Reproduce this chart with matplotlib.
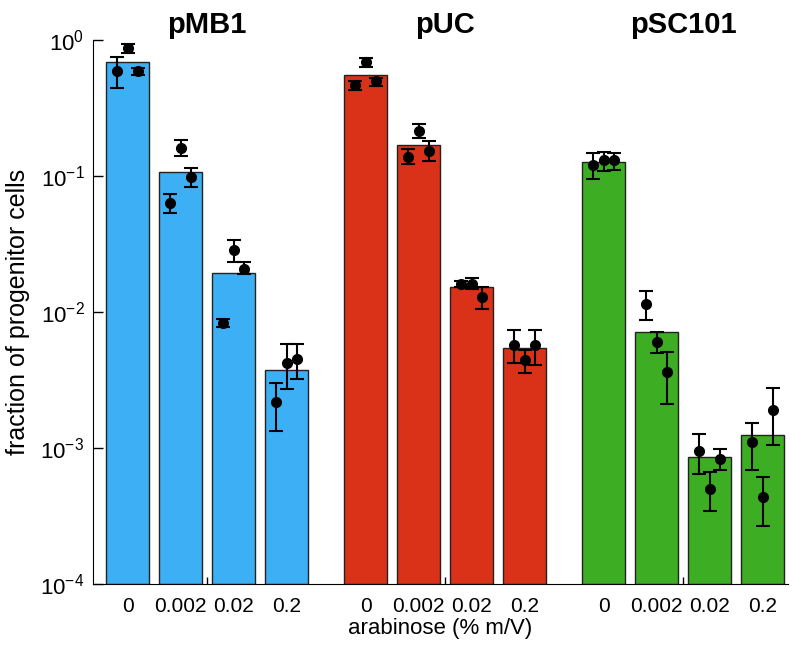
import matplotlib
matplotlib.use("Agg")
import matplotlib.pyplot as plt
from matplotlib.transforms import offset_copy
import numpy as np

plt.rcParams["font.family"] = ["Liberation Sans", "DejaVu Sans"]
plt.rcParams["mathtext.default"] = "regular"

groups = ["pMB1", "pUC", "pSC101"]
arabinose = ["0", "0.002", "0.02", "0.2"]
colors = ["#3db0f5", "#d93218", "#3dae23"]

# bar heights (mean fraction) per plasmid
bars_pmb1 = [0.686, 0.1076, 0.0191, 0.00366]
bars_puc = [0.550, 0.169, 0.0151, 0.00531]
bars_psc101 = [0.1267, 0.00701, 0.000763, 0.00115]

# replicate points: value, lower end of error bar, upper end of error bar
pts_pmb1 = [[0.594, 0.869, 0.589], [0.0637, 0.1615, 0.0984],
            [0.00834, 0.0284, 0.0208], [0.00218, 0.00424, 0.00454]]
lo_pmb1 = [[0.441, 0.798, 0.553], [0.0532, 0.140, 0.083],
           [0.0077, 0.0232, 0.0189], [0.00134, 0.00272, 0.00323]]
hi_pmb1 = [[0.754, 0.934, 0.626], [0.0738, 0.184, 0.115],
           [0.00893, 0.0337, 0.0232], [0.00302, 0.00578, 0.00578]]

pts_puc = [[0.467, 0.689, 0.497], [0.1387, 0.214, 0.1534],
           [0.0160, 0.0161, 0.0128], [0.00575, 0.00441, 0.00575]]
lo_puc = [[0.429, 0.637, 0.461], [0.1225, 0.189, 0.129],
          [0.0152, 0.0147, 0.0106], [0.0042, 0.00356, 0.00408]]
hi_puc = [[0.502, 0.737, 0.528], [0.157, 0.240, 0.180],
          [0.0168, 0.0177, 0.0152], [0.00733, 0.00526, 0.00733]]

pts_psc101 = [[0.1205, 0.130, 0.130], [0.01145, 0.00601, 0.0036],
              [0.00095, 0.000502, 0.00083], [0.0011, 0.000438, 0.00191]]
lo_psc101 = [[0.095, 0.109, 0.1107], [0.00879, 0.00497, 0.00212],
             [0.000644, 0.000346, 0.000692], [0.00069, 0.000266, 0.00105]]
hi_psc101 = [[0.147, 0.151, 0.147], [0.0142, 0.00713, 0.00508],
             [0.00126, 0.000662, 0.000977], [0.00152, 0.000612, 0.00277]]

bars = [bars_pmb1, bars_puc, bars_psc101]
pts = [pts_pmb1, pts_puc, pts_psc101]
los = [lo_pmb1, lo_puc, lo_psc101]
his = [hi_pmb1, hi_puc, hi_psc101]

bar_step = 0.2227
bar_width = 0.18
pt_step = 0.044

fig = plt.figure(figsize=(8, 6.54), dpi=100)
ax = fig.add_axes([0.116, 0.107, 0.869, 0.832])

title_trans = offset_copy(ax.get_xaxis_transform(), fig=fig, y=7, units="dots")

label_x = []
for g, name in enumerate(groups):
    center = g + 1
    offsets = (np.arange(4) - 1.5) * bar_step
    xs = center + offsets
    ax.bar(xs, bars[g], width=bar_width, bottom=1e-4, color=colors[g],
           edgecolor="#222222", linewidth=1.0, zorder=2)
    label_x.extend(xs)
    for i, x in enumerate(xs):
        px = x + (np.arange(3) - 1) * pt_step
        v = np.array(pts[g][i])
        lo = np.array(los[g][i])
        hi = np.array(his[g][i])
        ax.errorbar(px, v, yerr=[v - lo, hi - v], fmt="o", color="black",
                    markersize=7, elinewidth=1.5, capsize=5, capthick=1.5,
                    zorder=3)
    ax.text(center, 1.0, name, transform=title_trans,
            ha="center", va="baseline", fontsize=21, fontweight="bold")

ax.set_yscale("log")
ax.set_ylim(1e-4, 1)
ax.set_xlim(0.52, 3.44)

ax.set_xticks([1, 2, 3])
ax.set_xticklabels([])
ax.set_xticks(label_x, minor=True)
ax.set_xticklabels(arabinose * 3, minor=True, fontsize=15)
ax.tick_params(axis="x", which="major", direction="in", length=5, width=1)
ax.tick_params(axis="x", which="minor", length=0, pad=9)

ax.set_yticks([1e-4, 1e-3, 1e-2, 1e-1, 1])
ax.yaxis.set_minor_locator(matplotlib.ticker.NullLocator())
ax.tick_params(axis="y", which="major", direction="in", length=7, width=1,
               labelsize=16, pad=6)

ax.spines["top"].set_visible(False)
ax.spines["right"].set_visible(False)

ax.set_xlabel("arabinose (% m/V)", fontsize=16, labelpad=2)
ax.set_ylabel("fraction of progenitor cells", fontsize=18)
ax.yaxis.set_label_coords(-0.091, 0.5)

plt.savefig("out.png", dpi=100)
